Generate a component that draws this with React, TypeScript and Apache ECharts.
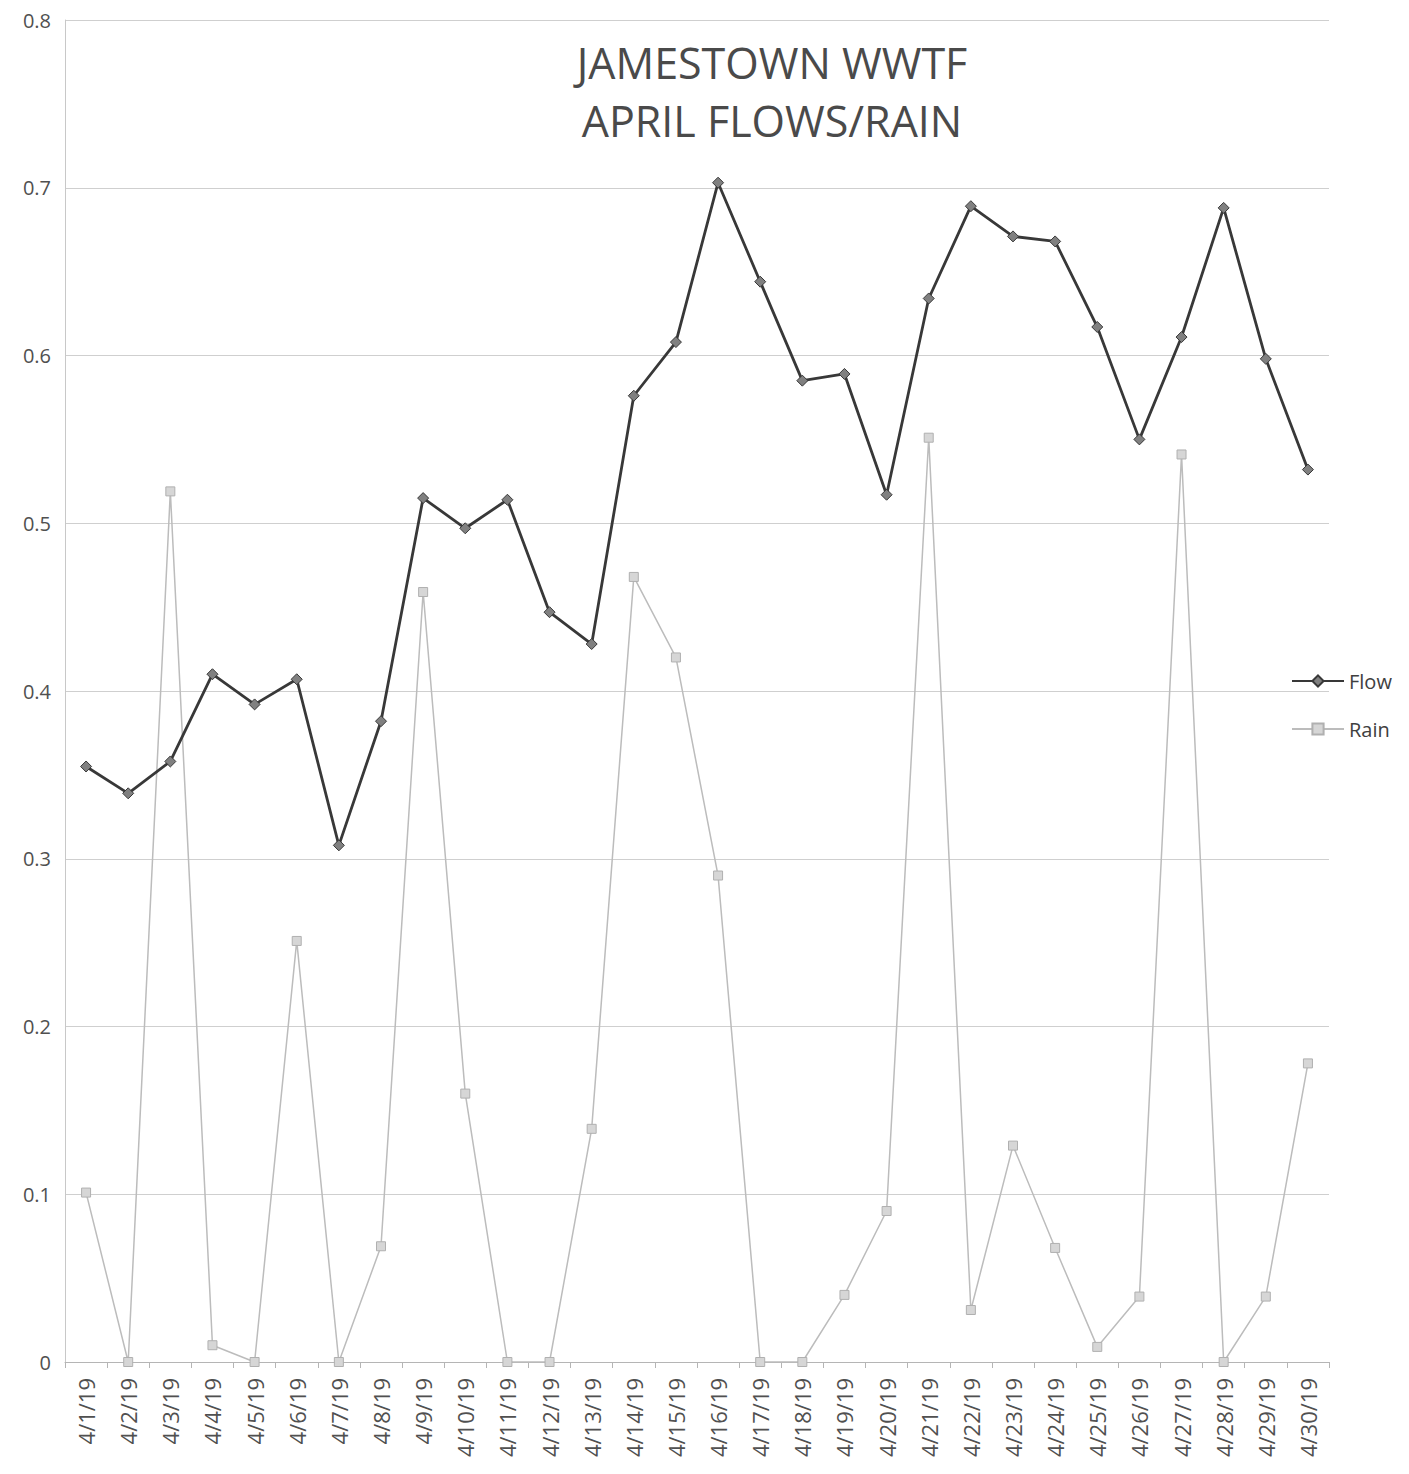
import React, { useEffect, useRef } from "react";
import * as echarts from "echarts";

const dates = [
  "4/1/19", "4/2/19", "4/3/19", "4/4/19", "4/5/19", "4/6/19", "4/7/19", "4/8/19", "4/9/19", "4/10/19",
  "4/11/19", "4/12/19", "4/13/19", "4/14/19", "4/15/19", "4/16/19", "4/17/19", "4/18/19", "4/19/19", "4/20/19",
  "4/21/19", "4/22/19", "4/23/19", "4/24/19", "4/25/19", "4/26/19", "4/27/19", "4/28/19", "4/29/19", "4/30/19",
];

const flow = [
  0.355, 0.339, 0.358, 0.41, 0.392, 0.407, 0.308, 0.382, 0.515, 0.497,
  0.514, 0.447, 0.428, 0.576, 0.608, 0.703, 0.644, 0.585, 0.589, 0.517,
  0.634, 0.689, 0.671, 0.668, 0.617, 0.55, 0.611, 0.688, 0.598, 0.532,
];

const rain = [
  0.101, 0, 0.519, 0.01, 0, 0.251, 0, 0.069, 0.459, 0.16,
  0, 0, 0.139, 0.468, 0.42, 0.29, 0, 0, 0.04, 0.09,
  0.551, 0.031, 0.129, 0.068, 0.009, 0.039, 0.541, 0, 0.039, 0.178,
];

const titleText = "JAMESTOWN WWTF\nAPRIL FLOWS/RAIN";

export default function App() {
  const ref = useRef<HTMLDivElement>(null);
  useEffect(() => {
    if (!ref.current) return;
    const chart = echarts.init(ref.current, null, { renderer: "svg" });
    const font = "'Open Sans', 'DejaVu Sans', sans-serif";
    chart.setOption({
      animation: false,
      backgroundColor: "#ffffff",
      textStyle: { fontFamily: font },
      title: {
        text: titleText,
        left: 767,
        top: 28,
        textAlign: "center",
        textStyle: {
          fontFamily: font,
          fontSize: 43,
          fontWeight: "normal",
          color: "#4a4a4a",
          lineHeight: 58,
        },
      },
      legend: {
        orient: "vertical",
        left: 1286,
        top: 666,
        itemWidth: 52,
        itemHeight: 14,
        itemGap: 28,
        textStyle: { fontFamily: font, fontSize: 20, color: "#404040" },
        data: ["Flow", "Rain"],
      },
      grid: { left: 65, right: 80, top: 20, bottom: 112, containLabel: false },
      xAxis: {
        type: "category",
        data: dates,
        boundaryGap: true,
        axisLine: { show: true, lineStyle: { color: "#b5b5b5", width: 1 } },
        axisTick: { show: true, length: 6, lineStyle: { color: "#b5b5b5" } },
        axisLabel: {
          rotate: 90,
          interval: 0,
          margin: 16,
          fontFamily: font,
          fontSize: 22,
          color: "#505050",
        },
        splitLine: { show: false },
      },
      yAxis: {
        type: "value",
        min: 0,
        max: 0.8,
        interval: 0.1,
        axisLine: { show: true, lineStyle: { color: "#c8c8c8", width: 1 } },
        axisTick: { show: false },
        axisLabel: {
          margin: 14,
          fontFamily: font,
          fontSize: 20,
          color: "#505050",
          formatter: (v: number) => (v === 0 ? "0" : v.toFixed(1)),
        },
        splitLine: { show: true, lineStyle: { color: "#cfcfcf", width: 1 } },
      },
      series: [
        {
          name: "Flow",
          type: "line",
          data: flow,
          symbol: "diamond",
          symbolSize: 11,
          itemStyle: { color: "#808080", borderColor: "#383838", borderWidth: 1 },
          lineStyle: { color: "#383838", width: 2.8 },
          z: 3,
        },
        {
          name: "Rain",
          type: "line",
          data: rain,
          symbol: "rect",
          symbolSize: 9,
          itemStyle: { color: "#d6d6d6", borderColor: "#b0b0b0", borderWidth: 1 },
          lineStyle: { color: "#bcbcbc", width: 1.5 },
          z: 2,
        },
      ],
    });
    return () => chart.dispose();
  }, []);
  return (
    <div
      ref={ref}
      style={{ position: "absolute", left: 0, top: 0, width: 1409, height: 1474 }}
    />
  );
}
